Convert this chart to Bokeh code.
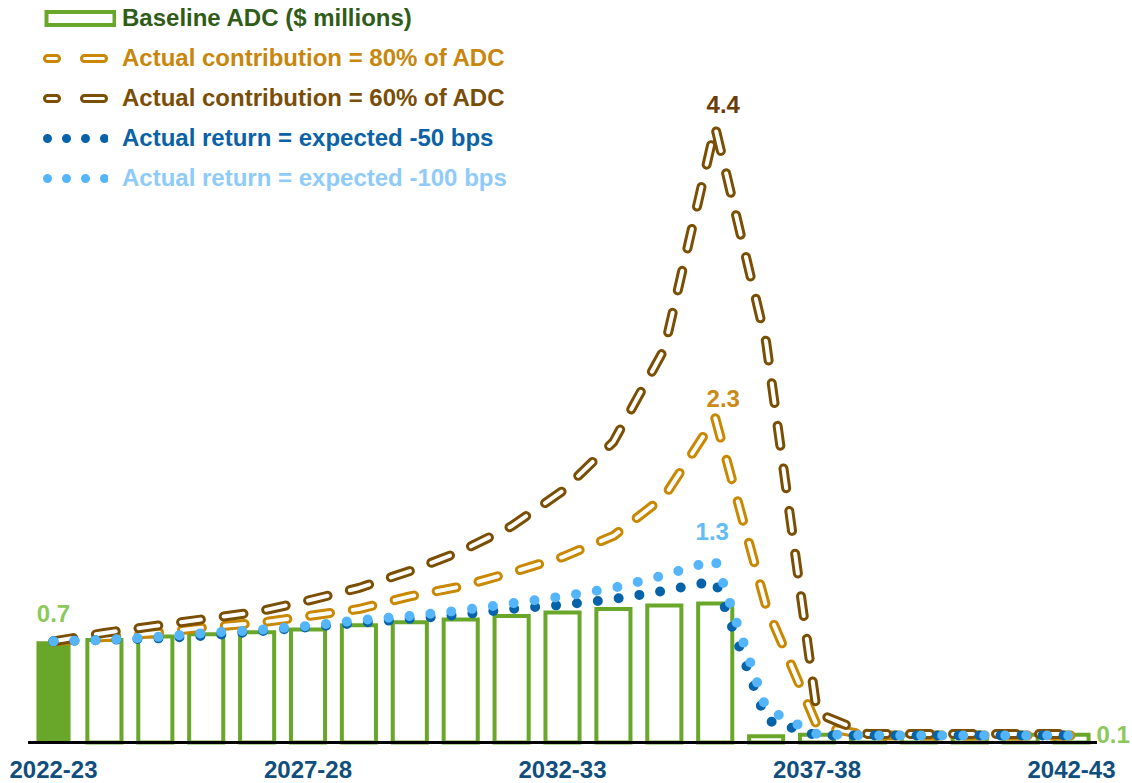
from bokeh.plotting import figure
from bokeh.models import ColumnDataSource, Legend, LegendItem, Range1d, CDSView, IndexFilter
from bokeh.core.properties import value
from bokeh.embed import file_html
from bokeh.resources import INLINE

# ---------------- data ----------------
years = ["2022-23", "2023-24", "2024-25", "2025-26", "2026-27", "2027-28", "2028-29",
         "2029-30", "2030-31", "2031-32", "2032-33", "2033-34", "2034-35", "2035-36",
         "2036-37", "2037-38", "2038-39", "2039-40", "2040-41", "2041-42", "2042-43"]
tick_years = ["2022-23", "2027-28", "2032-33", "2037-38", "2042-43"]

baseline_adc = [0.72, 0.73, 0.755, 0.77, 0.785, 0.805, 0.835, 0.855, 0.875, 0.90, 0.925,
                0.95, 0.975, 0.99, 0.045, 0.055, 0.055, 0.055, 0.055, 0.055, 0.055]
contrib_80 = [0.72, 0.75, 0.78, 0.82, 0.85, 0.90, 0.95, 1.04, 1.11, 1.21, 1.32,
              1.47, 1.75, 2.31, 0.97, 0.12, 0.05, 0.05, 0.05, 0.05, 0.05]
contrib_60 = [0.72, 0.78, 0.83, 0.88, 0.93, 1.01, 1.10, 1.22, 1.36, 1.54, 1.79,
              2.14, 2.80, 4.38, 2.85, 0.21, 0.06, 0.06, 0.06, 0.06, 0.06]
return_50 = [0.72, 0.73, 0.74, 0.76, 0.79, 0.82, 0.85, 0.88, 0.91, 0.95, 0.98,
             1.02, 1.08, 1.15, 0.16, 0.05, 0.05, 0.05, 0.05, 0.05, 0.05]
return_100 = [0.72, 0.73, 0.75, 0.78, 0.80, 0.83, 0.87, 0.90, 0.94, 0.99, 1.04,
              1.10, 1.19, 1.30, 0.24, 0.06, 0.05, 0.05, 0.05, 0.05, 0.05]

labels = ["Baseline ADC ($ millions)", "Actual contribution = 80% of ADC",
          "Actual contribution = 60% of ADC", "Actual return = expected -50 bps",
          "Actual return = expected -100 bps"]

# ---------------- styling ----------------
GREEN = "#69a72b"
GREEN_LBL = "#8cc95a"
ORANGE = "#c98800"
BROWN = "#7b4f03"
DBLUE = "#0663aa"
LBLUE = "#55b5fb"
TICK = "#104e7e"
FONT = "Liberation Sans"
NAN = float("nan")

x = list(range(len(years)))
src = ColumnDataSource(dict(x=x, adc=baseline_adc, c80=contrib_80, c60=contrib_60,
                            r50=return_50, r100=return_100))

W, H = 1132, 783
p = figure(width=W, height=H, output_backend="svg", toolbar_location=None,
           x_range=Range1d(-1.0413, 21.198), y_range=Range1d(-0.2918, 5.2811),
           min_border=0, min_border_left=0, min_border_right=0, min_border_top=0,
           min_border_bottom=0)
p.xaxis.visible = False
p.yaxis.visible = False
p.xgrid.visible = False
p.ygrid.visible = False
p.outline_line_color = None
p.background_fill_color = "white"
p.border_fill_color = "white"

# bars
first_view = CDSView(filter=IndexFilter([0]))
rest_view = CDSView(filter=IndexFilter(list(range(1, len(years)))))
p.vbar(x="x", top="adc", bottom=0, width=0.67, source=src, view=first_view,
       fill_color=GREEN, line_color=None)
p.vbar(x="x", top="adc", bottom=0, width=0.67, source=src, view=rest_view,
       fill_color="white", line_color=GREEN, line_width=4, line_join="miter")

# baseline
p.segment(x0=[-0.5], y0=[0], x1=[len(years) - 0.5], y1=[0], line_color="black", line_width=3)

DASH = "20 23"
def hollow_dash(col, color):
    p.line("x", col, source=src, line_color=color, line_width=10, line_dash=DASH,
           line_cap="round", line_join="round")
    p.line("x", col, source=src, line_color="white", line_width=4, line_dash=DASH,
           line_cap="round", line_join="round")

hollow_dash("c80", ORANGE)
hollow_dash("c60", BROWN)
p.line("x", "r50", source=src, line_color=DBLUE, line_width=10, line_dash="0 21",
       line_cap="round")
p.line("x", "r100", source=src, line_color=LBLUE, line_width=10, line_dash="0 21",
       line_cap="round")

# tick labels
tick_idx = [years.index(t) for t in tick_years]
p.text(x=tick_idx, y=[0] * len(tick_idx), text=tick_years, text_align="center",
       text_baseline="alphabetic", y_offset=27, text_color=TICK,
       text_font=value(FONT), text_font_style="bold", text_font_size="24px")

# value labels
def vlabel(i, series, color, dx, dy, align="center"):
    p.text(x=[i], y=[series[i]], text=[f"{series[i]:.1f}"], text_align=align,
           text_baseline="alphabetic", x_offset=dx, y_offset=dy, text_color=color,
           text_font=value(FONT), text_font_style="bold", text_font_size="24px")

vlabel(0, baseline_adc, GREEN_LBL, 0, -28)
vlabel(contrib_60.index(max(contrib_60)), contrib_60, "#6b3d0a", 8, -23)
vlabel(contrib_80.index(max(contrib_80)), contrib_80, "#cb8a18", 8, -19)
vlabel(return_100.index(max(return_100)), return_100, "#63bbf7", -3, -28)
vlabel(len(years) - 1, baseline_adc, GREEN_LBL, 25, 0, align="left")

# legend-only renderers (a single NaN point so nothing is drawn in the plot)
def lg_line(color, width, dash="solid", offset=0, cap="round"):
    return p.line(x=[NAN], y=[NAN], line_color=color, line_width=width, line_dash=dash,
                  line_dash_offset=offset, line_cap=cap)

LDASH = "9 28 19 107"      # period 163; offset puts a 7px gap before the first dash
lg_bar = [lg_line(GREEN, 17, cap="butt"), lg_line("white", 9, dash="0 4 64 100", cap="butt")]
lg_80 = [lg_line(ORANGE, 9, LDASH, 156), lg_line("white", 3, LDASH, 156)]
lg_60 = [lg_line(BROWN, 9, LDASH, 156), lg_line("white", 3, LDASH, 156)]
lg_50 = [lg_line(DBLUE, 9, "0 19", 12)]
lg_100 = [lg_line(LBLUE, 9, "0 19", 12)]

entries = [
    (labels[0], lg_bar, "#2f5c17", 44, 72, 6),
    (labels[1], lg_80, "#c8860c", 40, 68, 14),
    (labels[2], lg_60, "#7a4e06", 40, 68, 14),
    (labels[3], lg_50, "#0b62a6", 40, 68, 14),
    (labels[4], lg_100, "#8fcbfa", 40, 68, 14),
]
GH = 32
for k, (lab, rends, tcol, lx, gw, stand) in enumerate(entries):
    cy = 18 + 40 * k
    leg = Legend(items=[LegendItem(label=lab, renderers=rends)],
                 location=(lx, H - cy - GH // 2), padding=0, margin=0, spacing=0,
                 glyph_width=gw, glyph_height=GH, label_height=GH,
                 label_standoff=stand, border_line_color=None, background_fill_alpha=0,
                 label_text_font=FONT, label_text_font_style="bold",
                 label_text_font_size="24px", label_text_color=tcol,
                 label_text_baseline="middle")
    p.add_layout(leg)

open("out.html", "w").write(file_html(p, INLINE))
